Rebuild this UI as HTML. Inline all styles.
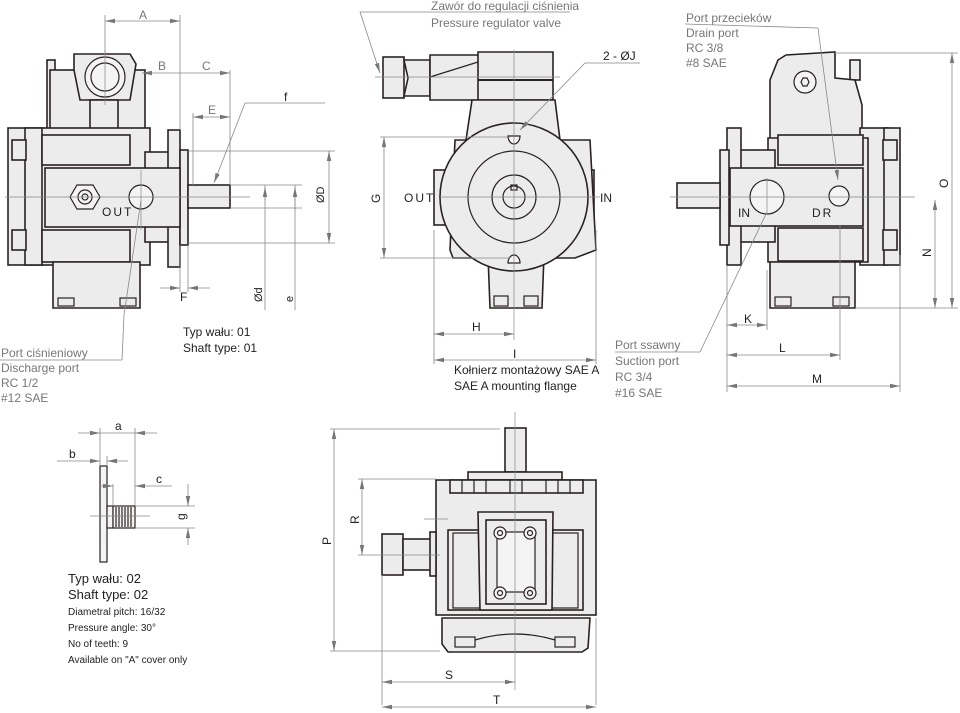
<!DOCTYPE html>
<html><head><meta charset="utf-8"><style>
html,body{margin:0;padding:0;background:#fff;}
svg{display:block;}
text{font-family:"Liberation Sans Narrow","Liberation Sans",sans-serif;font-size:12px;fill:#222;}
.g text,text.g{fill:#777;}
.b{fill:#ececec;stroke:#2a2222;stroke-width:1.6;}
.w{fill:#f4f4f4;stroke:#2a2222;stroke-width:1.2;}
.n{fill:none;stroke:#2a2222;stroke-width:1.2;}
.d{fill:none;stroke:#888;stroke-width:0.8;}
.c{fill:none;stroke:#888;stroke-width:0.7;}
.a{fill:#777;}
</style></head><body>
<svg width="960" height="713" viewBox="0 0 960 713" xmlns="http://www.w3.org/2000/svg">
<defs>
<marker id="ar" markerWidth="10" markerHeight="6" refX="10" refY="3" orient="auto-start-reverse" markerUnits="userSpaceOnUse"><path d="M0,0.8 L10,3 L0,5.2z" fill="#777"/></marker>
</defs>

<!-- ============ LEFT VIEW ============ -->
<g>
<rect class="b" x="47" y="60" width="8" height="70"/>
<rect class="b" x="50" y="70" width="95" height="60"/>
<path class="b" d="M74,54 L130,54 L136,64 L130,100 L80,100 L74,70z"/>
<circle class="w" cx="105" cy="77" r="20"/>
<circle class="n" cx="105" cy="77" r="14"/>
<rect class="b" x="90" y="100" width="28" height="35"/>
<rect class="b" x="8" y="128" width="142" height="137"/>
<rect class="b" x="25" y="128" width="17" height="137"/>
<rect class="b" x="12" y="140" width="14" height="20"/>
<rect class="b" x="12" y="230" width="14" height="20"/>
<rect class="b" x="42" y="135" width="88" height="30"/>
<rect class="b" x="42" y="230" width="88" height="32"/>
<rect class="b" x="145" y="152" width="25" height="90"/>
<rect class="b" x="168" y="130" width="12" height="137"/>
<rect class="b" x="180" y="150" width="8" height="95"/>
<rect class="b" x="45" y="168" width="135" height="59"/>
<rect class="b" x="188" y="185" width="42" height="23"/>
<path class="b" d="M53,262 L140,262 L140,308 L53,308z"/>
<rect class="n" x="58" y="298" width="16" height="8"/>
<rect class="n" x="120" y="298" width="16" height="8"/>
<polygon class="w" points="70,197 77,185 93,185 100,197 93,209 77,209"/>
<circle class="n" cx="85" cy="197" r="7"/>
<circle class="n" cx="85" cy="197" r="3"/>
<circle class="w" cx="141" cy="197" r="12"/>
<text x="102" y="216" style="letter-spacing:2px">OUT</text>
<line class="c" x1="5" y1="197" x2="250" y2="197"/>
<line class="c" x1="141" y1="170" x2="141" y2="230"/>
<line class="c" x1="105" y1="50" x2="105" y2="105"/>
</g>
<!-- left dims -->
<g>
<line class="d" x1="105" y1="15" x2="105" y2="55"/><line class="d" x1="180" y1="15" x2="180" y2="130"/>
<line class="d" x1="105" y1="21" x2="180" y2="21" marker-start="url(#ar)" marker-end="url(#ar)"/>
<text class="g" x="139" y="19">A</text>
<line class="d" x1="142" y1="73" x2="180" y2="73" marker-start="url(#ar)"/>
<line class="d" x1="180" y1="73" x2="230" y2="73" marker-end="url(#ar)"/>
<text class="g" x="158" y="70">B</text><text class="g" x="202" y="70">C</text>
<line class="d" x1="230" y1="70" x2="230" y2="185"/><line class="d" x1="193" y1="113" x2="193" y2="185"/>
<line class="d" x1="193" y1="117" x2="230" y2="117" marker-start="url(#ar)" marker-end="url(#ar)"/>
<text class="g" x="208" y="114">E</text>
<line class="d" x1="245" y1="103" x2="325" y2="103"/><line class="d" x1="245" y1="103" x2="214" y2="183" marker-end="url(#ar)"/>
<text x="284" y="101">f</text>
<line class="d" x1="188" y1="151" x2="335" y2="151"/><line class="d" x1="188" y1="243" x2="335" y2="243"/>
<line class="d" x1="329" y1="151" x2="329" y2="243" marker-start="url(#ar)" marker-end="url(#ar)"/>
<text x="324" y="203" transform="rotate(-90 324 203)" style="font-size:11px">ØD</text>
<line class="d" x1="230" y1="185" x2="302" y2="185"/><line class="d" x1="230" y1="208" x2="302" y2="208"/>
<line class="d" x1="265" y1="185" x2="265" y2="310"/><line class="d" x1="295" y1="185" x2="295" y2="310"/>
<line class="d" x1="265" y1="187" x2="265" y2="200" marker-start="url(#ar)"/>
<line class="d" x1="295" y1="187" x2="295" y2="210" marker-start="url(#ar)"/>
<text x="262" y="302" transform="rotate(-90 262 302)" style="font-size:11px">Ød</text>
<text x="293" y="302" transform="rotate(-90 293 302)" style="font-size:11px">e</text>
<line class="d" x1="180" y1="245" x2="180" y2="292"/><line class="d" x1="188" y1="245" x2="188" y2="292"/>
<line class="d" x1="160" y1="288" x2="180" y2="288" marker-end="url(#ar)"/>
<line class="d" x1="210" y1="288" x2="188" y2="288" marker-end="url(#ar)"/>
<text x="180" y="301">F</text>
<line class="d" x1="141" y1="200" x2="124" y2="315"/><line class="d" x1="124" y1="315" x2="122" y2="360"/>
<line class="d" x1="122" y1="360" x2="0" y2="360"/>
</g>
<g class="g">
<text x="1" y="357">Port ciśnieniowy</text>
<text x="1" y="372">Discharge port</text>
<text x="1" y="387">RC 1/2</text>
<text x="1" y="402">#12 SAE</text>
</g>
<text x="183" y="336">Typ wału: 01</text>
<text x="183" y="352">Shaft type: 01</text>

<!-- ============ MIDDLE VIEW ============ -->
<g>
<rect class="b" x="383" y="57" width="21" height="41"/>
<path class="b" d="M404,60 L430,60 L430,96 L404,96 L408,78z"/>
<path class="b" d="M430,55 L480,55 L480,100 L430,100z"/>
<line class="n" x1="430" y1="77" x2="478" y2="62"/>
<path class="b" d="M478,52 L553,52 L553,100 L478,100z"/>
<line class="n" x1="478" y1="80" x2="553" y2="80" style="stroke-width:2"/>
<path class="b" d="M472,100 L555,100 L560,140 L466,140z"/>
<rect class="b" x="434" y="170" width="18" height="55"/>
<rect class="b" x="576" y="170" width="18" height="55"/>
<path class="b" d="M455,140 L590,140 L596,250 L575,258 L453,258 L450,250z"/>
<path class="b" d="M488,255 L544,255 L542,308 L490,308z"/>
<rect class="n" x="494" y="296" width="14" height="10"/><rect class="n" x="524" y="296" width="14" height="10"/>
<circle class="b" cx="514" cy="197" r="74"/>
<circle class="n" cx="514" cy="197" r="46"/>
<circle class="n" cx="514" cy="197" r="22"/>
<circle class="n" cx="514" cy="197" r="11"/>
<rect class="n" x="511" y="185" width="6" height="5"/>
<path class="w" d="M508,136 a6,8 0 0 0 12,0z"/>
<path class="w" d="M508,263 a6,8 0 0 1 12,0z"/>
<text x="404" y="202" style="letter-spacing:2px">OUT</text>
<text x="600" y="202">IN</text>
<line class="c" x1="514" y1="50" x2="514" y2="340"/>
<line class="c" x1="375" y1="77" x2="560" y2="77"/>
<line class="c" x1="440" y1="197" x2="600" y2="197"/>
</g>
<g>
<line class="d" x1="360" y1="12" x2="570" y2="12"/><line class="d" x1="360" y1="12" x2="380" y2="73" marker-end="url(#ar)"/>
<text class="g" x="431" y="10">Zawór do regulacji ciśnienia</text>
<text class="g" x="431" y="27">Pressure regulator valve</text>
<line class="d" x1="585" y1="63" x2="640" y2="63"/><line class="d" x1="585" y1="63" x2="520" y2="130" marker-end="url(#ar)"/>
<text x="603" y="60">2 - ØJ</text>
<line class="d" x1="380" y1="137" x2="510" y2="137"/><line class="d" x1="380" y1="258" x2="510" y2="258"/>
<line class="d" x1="384" y1="137" x2="384" y2="258" marker-start="url(#ar)" marker-end="url(#ar)"/>
<text x="380" y="203" transform="rotate(-90 380 203)">G</text>
<line class="d" x1="434" y1="230" x2="434" y2="364"/><line class="d" x1="596" y1="230" x2="596" y2="364"/>
<line class="d" x1="434" y1="334" x2="514" y2="334" marker-start="url(#ar)" marker-end="url(#ar)"/>
<text x="472" y="331">H</text>
<line class="d" x1="434" y1="360" x2="596" y2="360" marker-start="url(#ar)" marker-end="url(#ar)"/>
<text x="513" y="358">I</text>
</g>
<text x="454" y="374">Kołnierz montażowy SAE A</text>
<text x="454" y="390">SAE A mounting flange</text>

<!-- ============ RIGHT VIEW ============ -->
<g>
<rect class="b" x="850" y="60" width="10" height="20"/>
<path class="b" d="M778,60 L786,55 L835,52 L835,78 L855,80 L862,105 L862,140 L770,140 L770,80z"/>
<circle class="w" cx="805" cy="82" r="11"/><polygon class="n" points="801,82 803,78 807,78 809,82 807,86 803,86"/>
<rect class="b" x="860" y="128" width="28" height="137"/>
<rect class="b" x="884" y="128" width="16" height="137"/>
<rect class="b" x="883" y="140" width="14" height="20"/><rect class="b" x="883" y="230" width="14" height="20"/>
<path class="b" d="M768,138 L868,138 L868,262 L768,262z"/>
<rect class="b" x="778" y="135" width="85" height="30"/>
<rect class="b" x="778" y="228" width="85" height="33"/>
<rect class="b" x="735" y="150" width="40" height="92"/>
<rect class="b" x="727" y="128" width="14" height="137"/>
<rect class="b" x="720" y="150" width="9" height="95"/>
<rect class="b" x="730" y="168" width="133" height="58"/>
<rect class="b" x="677" y="183" width="43" height="25"/>
<path class="b" d="M770,262 L855,262 L855,308 L770,308z"/>
<rect class="n" x="775" y="297" width="16" height="9"/><rect class="n" x="833" y="297" width="16" height="9"/>
<circle class="w" cx="767" cy="197" r="17"/>
<circle class="w" cx="839" cy="196" r="10"/>
<text x="738" y="217">IN</text>
<text x="812" y="217" style="letter-spacing:2px">DR</text>
<line class="c" x1="670" y1="197" x2="915" y2="197"/>
<line class="c" x1="767" y1="178" x2="767" y2="215"/>
</g>
<g>
<line class="d" x1="685" y1="24" x2="818" y2="28"/><line class="d" x1="818" y1="28" x2="838" y2="180" marker-end="url(#ar)"/>
<text class="g" x="686" y="22">Port przecieków</text>
<text class="g" x="686" y="37">Drain port</text>
<text class="g" x="686" y="52">RC 3/8</text>
<text class="g" x="686" y="67">#8 SAE</text>
<line class="d" x1="835" y1="53" x2="958" y2="53"/><line class="d" x1="855" y1="308" x2="958" y2="308"/>
<line class="d" x1="952" y1="53" x2="952" y2="308" marker-start="url(#ar)" marker-end="url(#ar)"/>
<text x="948" y="188" transform="rotate(-90 948 188)">O</text>
<line class="d" x1="935" y1="200" x2="935" y2="308" marker-start="url(#ar)" marker-end="url(#ar)"/>
<text x="931" y="257" transform="rotate(-90 931 257)">N</text>
<line class="d" x1="727" y1="265" x2="727" y2="392"/><line class="d" x1="767" y1="270" x2="767" y2="330"/>
<line class="d" x1="840" y1="225" x2="840" y2="360"/><line class="d" x1="900" y1="255" x2="900" y2="392"/>
<line class="d" x1="727" y1="325" x2="767" y2="325" marker-start="url(#ar)" marker-end="url(#ar)"/>
<text x="744" y="323">K</text>
<line class="d" x1="727" y1="355" x2="840" y2="355" marker-start="url(#ar)" marker-end="url(#ar)"/>
<text x="779" y="352">L</text>
<line class="d" x1="727" y1="386" x2="900" y2="386" marker-start="url(#ar)" marker-end="url(#ar)"/>
<text x="812" y="383">M</text>
<line class="d" x1="767" y1="212" x2="700" y2="352"/><line class="d" x1="700" y1="352" x2="615" y2="352"/>
<text class="g" x="615" y="349">Port ssawny</text>
<text class="g" x="615" y="365">Suction port</text>
<text class="g" x="615" y="381">RC 3/4</text>
<text class="g" x="615" y="397">#16 SAE</text>
</g>

<!-- ============ SHAFT TYPE 02 ============ -->
<g>
<rect class="w" x="100" y="466" width="7" height="96"/>
<rect class="w" x="107" y="506" width="6" height="22"/>
<rect class="w" x="113" y="506" width="22" height="22"/>
<line class="n" x1="116" y1="507" x2="116" y2="527"/><line class="n" x1="119" y1="507" x2="119" y2="527"/><line class="n" x1="122" y1="507" x2="122" y2="527"/><line class="n" x1="125" y1="507" x2="125" y2="527"/><line class="n" x1="128" y1="507" x2="128" y2="527"/><line class="n" x1="131" y1="507" x2="131" y2="527"/>
<line class="c" x1="90" y1="516" x2="150" y2="516"/>
<line class="d" x1="100" y1="428" x2="100" y2="466"/><line class="d" x1="135" y1="428" x2="135" y2="506"/>
<line class="d" x1="78" y1="433" x2="100" y2="433" marker-end="url(#ar)"/><line class="d" x1="157" y1="433" x2="135" y2="433" marker-end="url(#ar)"/>
<line class="d" x1="100" y1="433" x2="135" y2="433"/>
<text x="115" y="430">a</text>
<line class="d" x1="107" y1="456" x2="107" y2="466"/>
<line class="d" x1="57" y1="461" x2="100" y2="461" marker-end="url(#ar)"/><line class="d" x1="128" y1="461" x2="107" y2="461" marker-end="url(#ar)"/>
<text x="69" y="458">b</text>
<line class="d" x1="113" y1="484" x2="113" y2="506"/>
<line class="d" x1="100" y1="486" x2="113" y2="486" marker-end="url(#ar)"/><line class="d" x1="172" y1="486" x2="135" y2="486" marker-end="url(#ar)"/>
<text x="156" y="483">c</text>
<line class="d" x1="135" y1="506" x2="195" y2="506"/><line class="d" x1="135" y1="528" x2="195" y2="528"/>
<line class="d" x1="188" y1="484" x2="188" y2="506" marker-end="url(#ar)"/><line class="d" x1="188" y1="545" x2="188" y2="528" marker-end="url(#ar)"/>
<text x="185" y="520" transform="rotate(-90 185 520)">g</text>
</g>
<text x="68" y="583" style="font-size:13px">Typ wału: 02</text>
<text x="68" y="599" style="font-size:13px">Shaft type: 02</text>
<text x="68" y="615" style="font-size:10px">Diametral pitch: 16/32</text>
<text x="68" y="631" style="font-size:10px">Pressure angle: 30°</text>
<text x="68" y="647" style="font-size:10px">No of teeth: 9</text>
<text x="68" y="663" style="font-size:10px">Available on "A" cover only</text>

<!-- ============ BOTTOM VIEW ============ -->
<g>
<rect class="b" x="505" y="428" width="21" height="44"/>
<rect class="b" x="468" y="472" width="94" height="8"/>
<rect class="b" x="436" y="480" width="160" height="135"/>
<rect class="b" x="450" y="480" width="133" height="13"/>
<line class="n" x1="462" y1="480" x2="462" y2="493"/><line class="n" x1="474" y1="480" x2="474" y2="493"/><line class="n" x1="486" y1="480" x2="486" y2="493"/><line class="n" x1="510" y1="480" x2="510" y2="493"/><line class="n" x1="522" y1="480" x2="522" y2="493"/><line class="n" x1="546" y1="480" x2="546" y2="493"/><line class="n" x1="558" y1="480" x2="558" y2="493"/><line class="n" x1="570" y1="480" x2="570" y2="493"/>
<rect class="b" x="448" y="530" width="135" height="80"/>
<rect class="n" x="453" y="533" width="125" height="75"/>
<path class="b" d="M478,512 L553,512 L552,610 L480,610z"/>
<rect class="b" x="486" y="520" width="60" height="84"/>
<rect class="w" x="497" y="532" width="38" height="60"/>
<circle class="w" cx="500" cy="533" r="6"/><circle class="n" cx="500" cy="533" r="2.5"/>
<circle class="w" cx="530" cy="533" r="6"/><circle class="n" cx="530" cy="533" r="2.5"/>
<circle class="w" cx="500" cy="593" r="6"/><circle class="n" cx="500" cy="593" r="2.5"/>
<circle class="w" cx="530" cy="593" r="6"/><circle class="n" cx="530" cy="593" r="2.5"/>
<path class="b" d="M442,618 L590,618 L588,648 L582,652 L448,652 L442,644z"/>
<rect class="n" x="455" y="637" width="20" height="10"/><rect class="n" x="555" y="637" width="20" height="10"/>
<path class="n" d="M475,640 Q515,628 555,640"/>
<rect class="b" x="382" y="534" width="21" height="41"/>
<rect class="b" x="403" y="539" width="28" height="31"/>
<rect class="b" x="430" y="532" width="6" height="44"/>
<line class="c" x1="515" y1="412" x2="515" y2="690"/>
<line class="c" x1="424" y1="519" x2="448" y2="519"/>
</g>
<g>
<line class="d" x1="330" y1="429" x2="500" y2="429"/><line class="d" x1="330" y1="651" x2="440" y2="651"/>
<line class="d" x1="334" y1="429" x2="334" y2="651" marker-start="url(#ar)" marker-end="url(#ar)"/>
<text x="331" y="545" transform="rotate(-90 331 545)">P</text>
<line class="d" x1="358" y1="479" x2="436" y2="479"/><line class="d" x1="358" y1="555" x2="440" y2="555"/>
<line class="d" x1="362" y1="479" x2="362" y2="555" marker-start="url(#ar)" marker-end="url(#ar)"/>
<text x="359" y="524" transform="rotate(-90 359 524)">R</text>
<line class="d" x1="382" y1="575" x2="382" y2="705"/><line class="d" x1="596" y1="618" x2="596" y2="705"/>
<line class="d" x1="382" y1="682" x2="515" y2="682" marker-start="url(#ar)" marker-end="url(#ar)"/>
<text x="445" y="679">S</text>
<line class="d" x1="382" y1="707" x2="596" y2="707" marker-start="url(#ar)" marker-end="url(#ar)"/>
<text x="493" y="704">T</text>
</g>
</svg>
</body></html>
